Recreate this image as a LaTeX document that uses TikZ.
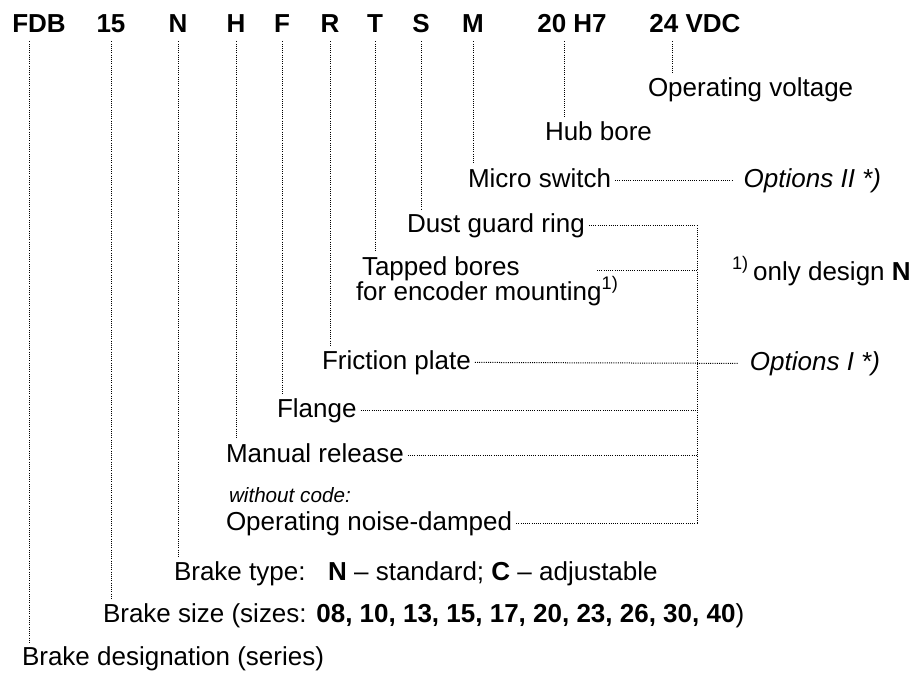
\documentclass[tikz,border=0pt]{standalone}
\usepackage{fontspec}
\setmainfont{Liberation Sans}
\newcommand\labelsize{\fontsize{19.5}{23}\selectfont}
\newcommand\notesize{\fontsize{15.5}{18}\selectfont}
\tikzset{
  lead/.style={line width=0.75pt, dash pattern=on 0.75pt off 0.9pt},
  code/.style={font=\labelsize\bfseries, anchor=base, inner sep=0pt, outer sep=3pt, text height=14pt, text depth=4.1pt},
  lbl/.style={font=\labelsize, anchor=base west, inner sep=0pt, outer sep=3pt, text height=14pt, text depth=4.1pt},
  opt/.style={lbl, anchor=base east, font=\labelsize\itshape, outer xsep=9pt}
}
\begin{document}
\begin{tikzpicture}[x=0.75pt, y=-0.75pt]
  \useasboundingbox (0,0) rectangle (914,675);
  % --- Typenschluessel ---
  \foreach \n/\x/\t in {FDB/39/FDB, 15/111/15, N/178/N, H/236/H, F/282/F, R/330/R, T/375/T, S/421/S, M/473/M, Hub/572/20 H7, Volt/695/24 VDC}
    \node[code] (c\n) at (\x,32) {\t};
  % --- Bezeichnungen ---
  \node[lbl] (lVolt) at (644,96) {Operating voltage};
  \node[lbl] (lHub) at (541,140) {Hub bore};
  \node[lbl] (lMicro) at (464,187) {Micro switch};
  \node[opt] (lOptII) at (893,187) {Options II *)};
  \node[lbl] (lDust) at (403,232) {Dust guard ring};
  \node[lbl] (lTapA) at (358,275) {Tapped bores};
  \node[lbl] (lTapB) at (352,300) {for encoder mounting\textsuperscript{1)}};
  \node[lbl] (lFoot) at (728,280) {\textsuperscript{1)}\,only design \textbf{N}};
  \node[lbl] (lFric) at (318,369) {Friction plate};
  \node[opt] (lOptI) at (892,370) {Options I *)};
  \node[lbl] (lFlange) at (273,417) {Flange};
  \node[lbl] (lManual) at (222,462) {Manual release};
  \node[lbl, font=\notesize\itshape] (lWithout) at (225,502) {without code:};
  \node[lbl] (lNoise) at (222,530) {Operating noise-damped};
  \node[lbl] (lType) at (170,580) {Brake type:\hspace{0.5em} \textbf{N} -- standard; \textbf{C} -- adjustable};
  \node[lbl] (lSize) at (99,622) {Brake size (sizes: \textbf{08, 10, 13, 15, 17, 20, 23, 26, 30, 40})};
  \node[lbl] (lDesig) at (18,665) {Brake designation (series)};
  % --- Hilfspunkte ---
  \coordinate (tFDB) at ([xshift=-7.5pt]cFDB.south);
  \coordinate (tHub) at ([xshift=-6pt]cHub.south);
  \coordinate (tVolt) at ([xshift=-17.25pt]cVolt.south);
  \coordinate (bus) at (697,0);
  \coordinate (tap) at (597,270);
  % --- Linien nach unten ---
  \draw[lead] (tFDB) -- (tFDB |- lDesig.north);
  \draw[lead] (tHub) -- (tHub |- lHub.north);
  \draw[lead] (tVolt) -- (tVolt |- lVolt.north);
  \foreach \n/\l in {15/lSize, N/lType, H/lManual, F/lFlange, R/lFric, T/lTapA, S/lDust, M/lMicro}
    \draw[lead] (c\n.south) -- (c\n.south |- \l.north);
  % --- Optionen ---
  \foreach \l in {lDust, lFlange, lManual, lNoise}
    \draw[lead] (\l.east) -- (\l.east -| bus);
  \draw[lead] (tap) -- (tap -| bus);
  \draw[lead] (lDust.east -| bus) -- (lNoise.east -| bus);
  \draw[lead] (lFric.east) -- (lOptI.west);
  \draw[lead] (lMicro.east) -- (lOptII.west);
\end{tikzpicture}
\end{document}
